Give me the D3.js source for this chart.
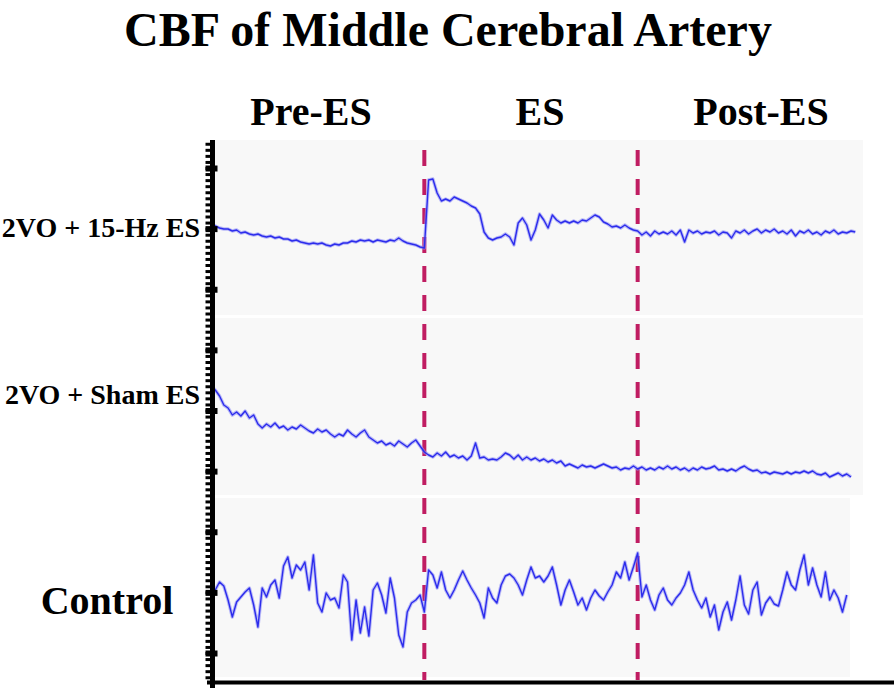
<!DOCTYPE html>
<html>
<head>
<meta charset="utf-8">
<script src="https://cdn.jsdelivr.net/npm/d3@7/dist/d3.min.js"></script>
<style>
  body { margin: 0; background: #fff; }
  svg text { font-family: "Liberation Serif", "Times New Roman", serif; font-weight: bold; fill: #000; }
</style>
</head>
<body>
<div id="chart"></div>
<script>
// ---- Data (CBF traces, arbitrary units, one sample every 2 s) ----
const SAMPLE_STEP = 2;
const phaseBreaks = [100, 200];              // ES on / ES off (s)
const phaseLabels = ["Pre-ES", "ES", "Post-ES"];
const trackLabels = ["2VO + 15-Hz ES", "2VO + Sham ES", "Control"];

const trace15Hz = [
  45, 44.5, 43.5, 43, 43, 42, 42.5, 41, 41.5, 40.5, 40, 40.5, 39.5, 39, 39.5, 38.5, 39, 38, 38, 37,
  37.5, 36.5, 36, 35.5, 36, 35.5, 36, 35, 34.5, 35.5, 35, 36, 36, 37, 36.5, 37.5, 37, 37.5, 36.5, 37.5,
  37, 36.5, 37.5, 37, 38.5, 37, 36, 35.5, 35, 34, 33.5, 67.5, 68, 61, 57, 58, 57, 59, 58, 57,
  56, 54.5, 53.5, 50.5, 41.5, 38.5, 37.5, 38.5, 39, 40.5, 39, 35, 46, 48.5, 45, 37.5, 42.5, 50.5, 47.5, 43.5,
  50, 47.5, 46, 47, 46, 47, 46, 47.5, 47, 48.5, 50, 49, 46.5, 45.5, 44, 44.5, 43.5, 45, 43.5, 42.5,
  42, 40, 41.5, 39.5, 42, 40.5, 41.5, 40.5, 42, 40, 42.5, 36.5, 42.5, 41, 42, 40.5, 41.5, 41, 42, 40,
  41.5, 41, 38.5, 42, 41, 42.5, 40.5, 42, 43, 41, 42.5, 41.5, 43, 41, 42, 40.5, 42.5, 39.5, 42, 41,
  42.5, 40.5, 41.5, 40, 42, 41, 42.5, 40.5, 41.5, 41, 42, 41.5
];

const traceSham = [
  54.5, 52.5, 49.5, 45, 43.5, 40, 41.5, 39.5, 42, 38.5, 40, 35.5, 33.5, 35.5, 34, 36, 33.5, 34.5, 32.5, 34,
  33, 35, 33.5, 32, 31, 33, 31.5, 32.5, 30.5, 29, 30.5, 29.5, 32.5, 30.5, 29, 31, 32.5, 29, 27.5, 26,
  27, 25, 26, 24.5, 27, 25.5, 24, 26, 27.5, 24.5, 21.5, 20, 19, 21, 19.5, 21.5, 19, 20, 18.5, 19.5,
  17.5, 19.5, 26, 18.5, 19, 17.5, 18, 17.5, 19, 21, 20, 18, 20, 17.5, 19, 17.5, 18.5, 17, 18, 16.5,
  17.5, 16, 17, 14.5, 15.5, 14.5, 13.5, 15, 14, 14.5, 13.5, 14.5, 15.5, 14.5, 13.5, 14, 12.5, 13.5, 13, 14.5,
  13, 14, 12.5, 13.5, 12.5, 14, 13, 14.5, 13, 14, 12.5, 13.5, 12, 13.5, 12.5, 14, 13, 13.5, 14.5, 12.5,
  13, 12, 13, 12, 13.5, 14.5, 13, 12, 12.5, 11, 11.5, 10.5, 11.5, 11, 10.5, 11.5, 10.5, 11.5, 11, 12,
  11, 12, 10.5, 10, 11, 9, 10, 11, 9.5, 10.5, 9
];

const traceControl = [
  38.5, 43.5, 47.5, 45.5, 38.5, 30, 37.5, 40, 42.5, 44.5, 36, 25, 44.5, 40, 46, 48.5, 39.5, 55.5, 60, 49.5,
  56, 53.5, 57.5, 43.5, 61, 37, 32.5, 42, 38.5, 39.5, 34.5, 51, 47.5, 18.5, 38.5, 22, 35, 20.5, 43.5, 47,
  41, 32, 49.5, 39.5, 21, 15, 32.5, 37, 38.5, 41, 32.5, 53.5, 51, 44.5, 52.5, 43.5, 39.5, 43.5, 48.5, 53,
  48.5, 44.5, 41, 37, 29.5, 44.5, 39.5, 37, 46, 50.5, 51.5, 49.5, 46, 41, 48.5, 55, 49.5, 50.5, 47.5, 50.5,
  55, 46, 36, 43.5, 48.5, 42.5, 36, 39.5, 33.5, 39.5, 43.5, 40.5, 38.5, 42.5, 46, 52.5, 49.5, 57.5, 48.5, 55,
  62, 40, 46, 38.5, 33.5, 41, 44.5, 38.5, 36, 39.5, 42, 46, 52.5, 43.5, 38.5, 34.5, 39.5, 30, 36, 23.5,
  32.5, 37.5, 28.5, 38.5, 50.5, 36, 31.5, 43.5, 47.5, 31, 37, 40, 36.5, 35.5, 43.5, 52.5, 46, 43.5, 53.5, 61,
  46, 54.5, 46, 40, 52.5, 38.5, 43.5, 39.5, 32.5, 41
];

const traces = [trace15Hz, traceSham, traceControl];

// ---- Layout ----
const width = 894, height = 691;
const panels = [
  { top: 140, bottom: 315, right: 863 },
  { top: 318, bottom: 495, right: 863 },
  { top: 498, bottom: 677, right: 850 }
];
const axisX = 212.5;
const labelX = [311, 540, 761];
const trackLabelY = [237, 404, 614];
const trackLabelSize = [28, 28, 40];

const svg = d3.select("#chart")
  .append("svg")
  .attr("width", width)
  .attr("height", height)
  .attr("viewBox", [0, 0, width, height]);

const x = d3.scaleLinear().domain([0, 300]).range([211, 851]);

// Title + phase headers
svg.append("text")
  .attr("x", 448).attr("y", 46)
  .attr("text-anchor", "middle")
  .attr("font-size", "48px")
  .text("CBF of Middle Cerebral Artery");

svg.selectAll(".phase-label")
  .data(phaseLabels)
  .join("text")
  .attr("class", "phase-label")
  .attr("x", (d, i) => labelX[i])
  .attr("y", 125)
  .attr("text-anchor", "middle")
  .attr("font-size", "40px")
  .text(d => d);

// Panel backgrounds
svg.append("g").selectAll("rect")
  .data(panels)
  .join("rect")
  .attr("x", axisX)
  .attr("y", d => d.top)
  .attr("width", d => d.right - axisX)
  .attr("height", d => d.bottom - d.top)
  .attr("fill", "#f8f8f8");

// ES on/off markers
svg.append("g").selectAll("line")
  .data(phaseBreaks)
  .join("line")
  .attr("x1", d => x(d)).attr("x2", d => x(d))
  .attr("y1", 150).attr("y2", 680)
  .attr("stroke", "#c01d62")
  .attr("stroke-width", 4)
  .attr("stroke-dasharray", "16,13");

// Traces, one y scale per panel (soft halo + core line, like the scanned trace)
traces.forEach((values, k) => {
  const p = panels[k];
  const y = d3.scaleLinear()
    .domain([0, (p.bottom - p.top) / 2])
    .range([p.bottom, p.top]);

  const line = d3.line()
    .x((d, i) => x(i * SAMPLE_STEP))
    .y(d => y(d));

  svg.append("path")
    .datum(values)
    .attr("fill", "none")
    .attr("stroke", "#8f8ff6")
    .attr("stroke-opacity", 0.6)
    .attr("stroke-width", 3.4)
    .attr("stroke-linejoin", "round")
    .attr("d", line);

  svg.append("path")
    .datum(values)
    .attr("fill", "none")
    .attr("stroke", "#2c2cec")
    .attr("stroke-width", 1.4)
    .attr("stroke-linejoin", "round")
    .attr("d", line);
});

// Track labels
svg.selectAll(".track-label")
  .data(trackLabels)
  .join("text")
  .attr("class", "track-label")
  .attr("x", (d, i) => i === 2 ? 107 : 200)
  .attr("y", (d, i) => trackLabelY[i])
  .attr("text-anchor", (d, i) => i === 2 ? "middle" : "end")
  .attr("font-size", (d, i) => trackLabelSize[i] + "px")
  .text(d => d);

// Left axis: continuous CBF scale with minor / major ticks
const cbf = d3.scaleLinear().domain([0, 8]).range([653, 168]);
const minorTicks = d3.range(-4, 85).map(k => k / 10);
const majorTicks = d3.range(0, 9);

svg.append("g")
  .attr("transform", `translate(${axisX},0)`)
  .call(d3.axisLeft(cbf).tickValues(minorTicks).tickSize(7).tickFormat(""))
  .call(g => g.select(".domain").remove())
  .selectAll(".tick line")
  .attr("stroke", "#000")
  .attr("stroke-width", 3);

svg.append("g")
  .attr("transform", `translate(${axisX + 5},0)`)
  .call(d3.axisLeft(cbf).tickValues(majorTicks).tickSize(12).tickFormat(""))
  .call(g => g.select(".domain").remove())
  .selectAll(".tick line")
  .attr("stroke", "#000")
  .attr("stroke-width", 6);

svg.append("line")
  .attr("x1", axisX).attr("x2", axisX)
  .attr("y1", 140).attr("y2", 688)
  .attr("stroke", "#000")
  .attr("stroke-width", 5);

// Bottom axis (time), no ticks
svg.append("line")
  .attr("x1", 207).attr("x2", width)
  .attr("y1", 682.5).attr("y2", 682.5)
  .attr("stroke", "#000")
  .attr("stroke-width", 4);
</script>
</body>
</html>
